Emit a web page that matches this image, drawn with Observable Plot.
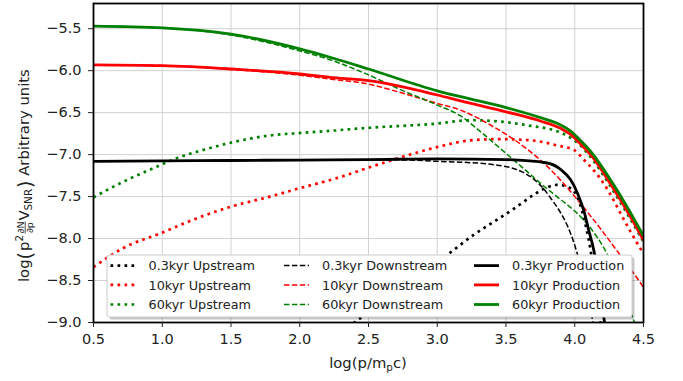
<!DOCTYPE html>
<html>
<head>
<meta charset="utf-8">
<script src="https://cdn.jsdelivr.net/npm/d3@7"></script>
<script src="https://cdn.jsdelivr.net/npm/@observablehq/plot@0.6"></script>
<style>
  html, body { margin: 0; padding: 0; background: #fff; }
  #chart { width: 683px; height: 381px; }
</style>
</head>
<body>
<div id="chart"></div>
<script>
// ---- tick values ----
const xTicks = [0.5, 1.0, 1.5, 2.0, 2.5, 3.0, 3.5, 4.0, 4.5];
const yTicks = [-9.0, -8.5, -8.0, -7.5, -7.0, -6.5, -6.0, -5.5];

// ---- series values (log p, log spectrum) ----
// 0.3kyr Upstream
const up03X = [2.35, 2.75, 3.10, 3.27, 3.44, 3.58, 3.70, 3.80, 3.87, 3.94, 4.00, 4.04, 4.07, 4.10, 4.14, 4.19];
const up03Y = [-9.06, -8.57, -8.16, -7.95, -7.77, -7.62, -7.48, -7.39, -7.36, -7.38, -7.45, -7.60, -7.78, -8.00, -8.40, -9.05];
// 10kyr Upstream
const up10X = [0.5, 0.72, 1.0, 1.25, 1.5, 1.76, 2.0, 2.27, 2.51, 2.78, 3.0, 3.24, 3.44, 3.68, 3.87, 4.0, 4.06, 4.14, 4.24, 4.33, 4.41, 4.5];
const up10Y = [-8.34, -8.11, -7.93, -7.76, -7.62, -7.51, -7.40, -7.28, -7.15, -7.01, -6.91, -6.83, -6.815, -6.83, -6.89, -6.95, -7.05, -7.19, -7.42, -7.69, -7.93, -8.18];
// 60kyr Upstream
const up60X = [0.5, 0.72, 0.91, 1.11, 1.33, 1.52, 1.79, 2.03, 2.27, 2.51, 3.0, 3.24, 3.41, 3.65, 3.90, 3.97, 4.04, 4.13, 4.26, 4.38, 4.5];
const up60Y = [-7.51, -7.32, -7.18, -7.04, -6.93, -6.85, -6.77, -6.74, -6.71, -6.68, -6.63, -6.59, -6.60, -6.65, -6.74, -6.80, -6.89, -7.06, -7.38, -7.70, -8.04];
// 0.3kyr Downstream
const dn03X = [0.5, 1.0, 1.5, 2.0, 2.5, 2.8, 3.0, 3.17, 3.41, 3.61, 3.70, 3.77, 3.83, 3.90, 3.95, 4.0, 4.05, 4.10, 4.14];
const dn03Y = [-7.08, -7.075, -7.07, -7.065, -7.06, -7.065, -7.08, -7.09, -7.12, -7.20, -7.29, -7.40, -7.53, -7.70, -7.86, -8.08, -8.38, -8.75, -9.05];
// 10kyr Downstream
const dn10X = [0.5, 1.0, 1.5, 2.0, 2.22, 2.5, 2.71, 3.0, 3.17, 3.41, 3.65, 3.80, 3.90, 4.0, 4.1, 4.2, 4.3, 4.4, 4.5];
const dn10Y = [-5.93, -5.94, -5.985, -6.055, -6.10, -6.16, -6.25, -6.39, -6.47, -6.67, -6.93, -7.14, -7.31, -7.50, -7.70, -7.91, -8.13, -8.35, -8.58];
// 60kyr Downstream
const dn60X = [0.5, 1.0, 1.5, 2.0, 2.22, 2.5, 2.71, 3.0, 3.17, 3.31, 3.46, 3.61, 3.75, 3.87, 3.94, 4.06, 4.2, 4.3, 4.44];
const dn60Y = [-5.47, -5.49, -5.575, -5.765, -5.87, -6.05, -6.21, -6.41, -6.54, -6.72, -6.93, -7.14, -7.34, -7.50, -7.59, -7.77, -8.08, -8.40, -9.03];
// 0.3kyr Production
const pr03X = [0.5, 1.0, 1.5, 2.0, 2.5, 3.0, 3.5, 3.8, 3.9, 3.97, 4.02, 4.07, 4.10, 4.14, 4.18, 4.22];
const pr03Y = [-7.08, -7.075, -7.07, -7.065, -7.06, -7.05, -7.06, -7.10, -7.18, -7.30, -7.46, -7.69, -7.89, -8.15, -8.55, -9.05];
// 10kyr Production
const pr10X = [0.5, 1.0, 1.5, 2.0, 2.22, 2.5, 3.0, 3.17, 3.5, 3.75, 3.9, 3.97, 4.04, 4.13, 4.26, 4.38, 4.5];
const pr10Y = [-5.93, -5.94, -5.98, -6.04, -6.08, -6.12, -6.29, -6.36, -6.49, -6.60, -6.69, -6.76, -6.87, -7.03, -7.35, -7.67, -8.02];
// 60kyr Production
const pr60X = [0.5, 1.0, 1.5, 2.0, 2.22, 2.5, 3.0, 3.17, 3.5, 3.75, 3.9, 3.97, 4.04, 4.13, 4.26, 4.38, 4.5];
const pr60Y = [-5.47, -5.49, -5.565, -5.74, -5.84, -5.98, -6.24, -6.31, -6.44, -6.56, -6.65, -6.72, -6.83, -6.99, -7.30, -7.62, -7.97];

// ---- series labels ----
const ages = ["0.3kyr", "10kyr", "60kyr"];
const kinds = ["Upstream", "Downstream", "Production"];
const seriesData = {
  "0.3kyr Upstream": [up03X, up03Y],
  "10kyr Upstream": [up10X, up10Y],
  "60kyr Upstream": [up60X, up60Y],
  "0.3kyr Downstream": [dn03X, dn03Y],
  "10kyr Downstream": [dn10X, dn10Y],
  "60kyr Downstream": [dn60X, dn60Y],
  "0.3kyr Production": [pr03X, pr03Y],
  "10kyr Production": [pr10X, pr10Y],
  "60kyr Production": [pr60X, pr60Y]
};

// ---- styles (kept apart from data) ----
const ageColor = {"0.3kyr": "#000000", "10kyr": "#ff0000", "60kyr": "#008000"};
const kindStyle = {
  Upstream:   {strokeWidth: 2.7, strokeDasharray: "2.7 4.3"},
  Downstream: {strokeWidth: 1.5, strokeDasharray: "5.5 2.4"},
  Production: {strokeWidth: 2.8, strokeDasharray: null}
};

const rows = [];
for (const k of kinds) for (const a of ages) {
  const name = a + " " + k;
  const [xs, ys] = seriesData[name];
  xs.forEach((x, i) => rows.push({name, age: a, kind: k, x, y: ys[i]}));
}

const lineMarks = [];
for (const k of kinds) for (const a of ages) {
  const name = a + " " + k;
  lineMarks.push(Plot.line(rows.filter(r => r.name === name), {
    x: "x", y: "y",
    stroke: ageColor[a],
    strokeWidth: kindStyle[k].strokeWidth,
    strokeDasharray: kindStyle[k].strokeDasharray || undefined,
    strokeLinecap: "butt",
    curve: "monotone-x",
    clip: true
  }));
}

const fmt = d3.format(".1f");
const svg = Plot.plot({
  width: 683,
  height: 381,
  marginTop: 3,
  marginBottom: 59,
  marginLeft: 93,
  marginRight: 40,
  style: {fontFamily: "DejaVu Sans", fontSize: "14.5px", background: "#ffffff", color: "#222"},
  x: {domain: [0.5, 4.5], label: null},
  y: {domain: [-9.0, -5.2], label: null},
  marks: [
    Plot.gridX(xTicks, {stroke: "#d2d2d2", strokeOpacity: 1, strokeWidth: 1}),
    Plot.gridY(yTicks, {stroke: "#d2d2d2", strokeOpacity: 1, strokeWidth: 1}),
    ...lineMarks,
    Plot.frame({stroke: "#000", strokeWidth: 1.8}),
    Plot.axisX(xTicks, {tickFormat: fmt, tickSize: 5, tickPadding: 6, label: null, fontSize: 14.5}),
    Plot.axisY(yTicks, {tickFormat: fmt, tickSize: 5, tickPadding: 7, label: null, fontSize: 14.5})
  ]
});
document.getElementById("chart").appendChild(svg);

const root = d3.select(svg);

// ---- legend ----
const lg = root.append("g").attr("font-family", "DejaVu Sans").attr("text-anchor", "start");
const bx = 107, by = 255, bw = 525, bh = 62;
lg.append("rect").attr("x", bx + 2.5).attr("y", by + 2.5).attr("width", bw).attr("height", bh)
  .attr("rx", 2).attr("fill", "#000").attr("fill-opacity", 0.22);
lg.append("rect").attr("x", bx).attr("y", by).attr("width", bw).attr("height", bh)
  .attr("rx", 2).attr("fill", "#fff").attr("fill-opacity", 1).attr("stroke", "#cccccc").attr("stroke-width", 1);
const textX = [148.5, 322, 512];
const rowY = [265.6, 284.9, 304.5];
kinds.forEach((k, ci) => {
  ages.forEach((a, ri) => {
    const yy = rowY[ri];
    lg.append("line")
      .attr("x1", textX[ci] - 38).attr("x2", textX[ci] - 13)
      .attr("y1", yy).attr("y2", yy)
      .attr("stroke", ageColor[a])
      .attr("stroke-width", kindStyle[k].strokeWidth)
      .attr("stroke-dasharray", kindStyle[k].strokeDasharray)
      .attr("stroke-linecap", "butt");
    lg.append("text").attr("x", textX[ci]).attr("y", yy).attr("dy", "0.36em")
      .attr("text-anchor", "start")
      .attr("font-size", 12.8).attr("fill", "#222").text(a + " " + k);
  });
});

// ---- x label ----
const xl = root.append("text").attr("x", 368).attr("y", 368).attr("text-anchor", "middle")
  .attr("font-family", "DejaVu Sans").attr("font-size", 14.8).attr("fill", "#222");
xl.append("tspan").text("log(p/m");
xl.append("tspan").attr("font-size", 10.4).attr("dy", 3).text("p");
xl.append("tspan").attr("dy", -3).text("c)");

// ---- y label ----
const yg = root.append("g").attr("transform", "translate(29,282) rotate(-90)");
const yl = yg.append("text").attr("font-family", "DejaVu Sans").attr("font-size", 14.8)
  .attr("fill", "#222").attr("text-anchor", "start");
yl.append("tspan").text("log");
yl.append("tspan").attr("font-size", 19).attr("dy", 3).text("(");
yl.append("tspan").attr("dx", 1).attr("dy", -3).text("p");
yl.append("tspan").attr("font-size", 10.4).attr("dy", -6).text("2");
const num = yl.append("tspan").attr("font-size", 9.5).attr("dx", 1.5).attr("dy", 0.5).text("∂N");
yl.append("tspan").attr("font-size", 9.5).attr("dx", -11.6).attr("dy", 9.5).text("∂p");
yl.append("tspan").attr("dx", 1.5).attr("dy", -4).text("V");
yl.append("tspan").attr("font-size", 10.4).attr("dy", 3).text("SNR");
yl.append("tspan").attr("font-size", 19).attr("dx", 1).text(")");
yl.append("tspan").attr("dy", -3).text(" Arbitrary units");
try {
  const n = num.node();
  const s = n.getStartPositionOfChar(0).x;
  const e = n.getEndPositionOfChar(1).x;
  yg.append("line").attr("x1", s).attr("x2", e).attr("y1", -3.8).attr("y2", -3.8)
    .attr("stroke", "#222").attr("stroke-width", 0.8);
} catch (err) {}
</script>
</body>
</html>
